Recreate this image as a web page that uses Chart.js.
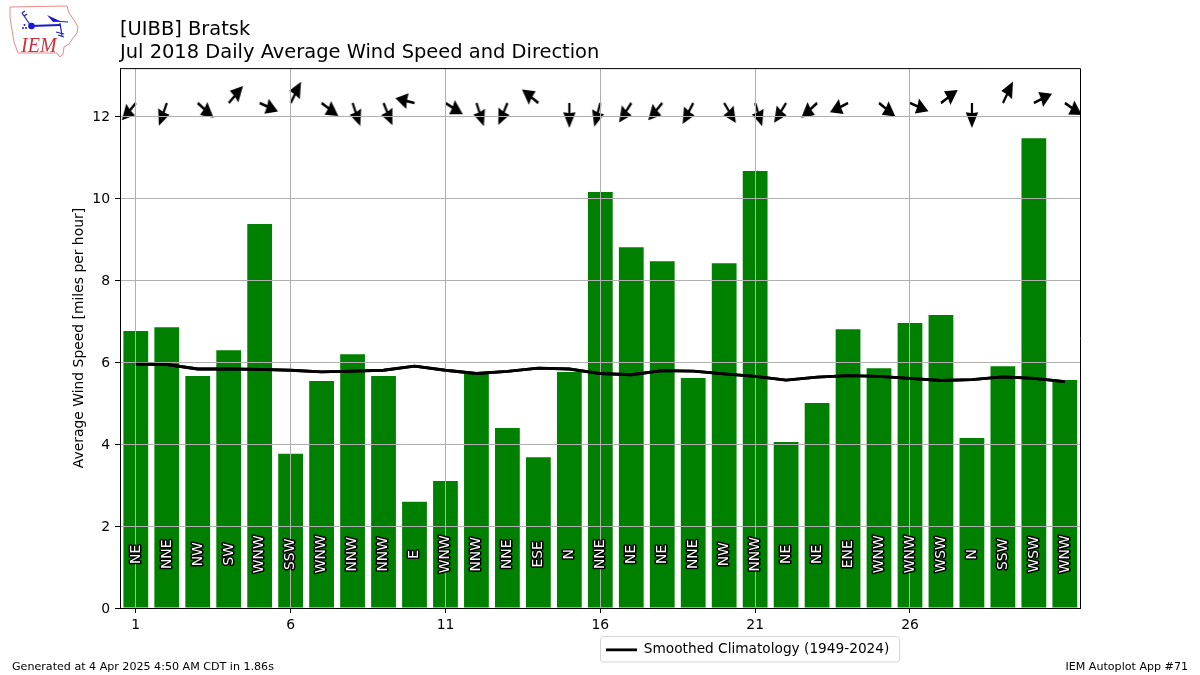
<!DOCTYPE html>
<html>
<head>
<meta charset="utf-8">
<title>[UIBB] Bratsk wind</title>
<script src="https://cdn.jsdelivr.net/npm/chart.js@4"></script>
<style>html,body{margin:0;padding:0;background:#fff}canvas{display:block}</style>
</head>
<body>
<canvas id="c" width="1200" height="675"></canvas>
<script>
const days = [1,2,3,4,5,6,7,8,9,10,11,12,13,14,15,16,17,18,19,20,21,22,23,24,25,26,27,28,29,30,31];
const avgSpeed = [6.76,6.85,5.66,6.29,9.37,3.76,5.54,6.19,5.66,2.59,3.10,5.73,4.39,3.68,5.76,10.15,8.80,8.46,5.61,8.41,10.66,4.05,5.00,6.80,5.85,6.95,7.15,4.15,5.90,11.46,5.56];
const climatology = [5.95,5.94,5.83,5.83,5.82,5.80,5.76,5.78,5.80,5.90,5.80,5.72,5.77,5.85,5.83,5.72,5.69,5.79,5.78,5.71,5.65,5.56,5.63,5.67,5.65,5.60,5.55,5.57,5.64,5.60,5.52];
const dirLabels = ["NE","NNE","NW","SW","WNW","SSW","WNW","NNW","NNW","E","WNW","NNW","NNE","ESE","N","NNE","NE","NE","NNE","NW","NNW","NE","NE","ENE","WNW","WNW","WSW","N","SSW","WSW","WNW"];
const windDirDeg = [46,24,306,227,290,212,301,337,333,101,297,338,28,123,0,18,39,46,33,323,339,38,54,68,303,289,239,0,211,248,299];
const arrowBase = 12.32;
const labelLevel = 1.31;
const xTickValues = [1,6,11,16,21,26];
const yTickValues = [0,2,4,6,8,10,12];
const titleLines = ["[UIBB] Bratsk","Jul 2018 Daily Average Wind Speed and Direction"];
const yAxisTitle = "Average Wind Speed [miles per hour]";
const legendLabel = "Smoothed Climatology (1949-2024)";
const footerLeft = "Generated at 4 Apr 2025 4:50 AM CDT in 1.86s";
const footerRight = "IEM Autoplot App #71";

const FONT = '"DejaVu Sans", sans-serif';
Chart.defaults.font.family = FONT;
Chart.defaults.font.size = 13.9;
Chart.defaults.color = '#000';

function arrowCanvas(deg){
  const s = 64, c = document.createElement('canvas');
  c.width = s; c.height = s;
  const g = c.getContext('2d');
  const r = deg*Math.PI/180;
  const ux = -Math.sin(r), uy = Math.cos(r), nx = -uy, ny = ux;
  const L = 25, hl = 15.7, na = 15, hw = 8, sw = 1.4, squeeze = 0.78;
  const P = (a,b)=>[s/2+squeeze*(ux*a+nx*b), s/2+uy*a+ny*b];
  const pts = [P(0,-sw),P(L-na,-sw),P(L-hl,-hw),P(L,0),P(L-hl,hw),P(L-na,sw),P(0,sw)];
  g.fillStyle = '#000';
  g.beginPath();
  pts.forEach((p,i)=> i?g.lineTo(p[0],p[1]):g.moveTo(p[0],p[1]));
  g.closePath(); g.fill();
  return c;
}
const arrowImgs = windDirDeg.map(arrowCanvas);

const decor = {
  id:'decor',
  afterLayout(chart){
    const l = chart.legend;
    l.left = 601; l.right = 899; l.top = 638; l.bottom = 662;
  },
  beforeDraw(chart){
    const g = chart.ctx;
    g.save();
    g.strokeStyle = '#d5d5d5'; g.lineWidth = 1;
    g.fillStyle = '#fff';
    g.beginPath();
    g.roundRect(600.5,636.5,299,25.5,3);
    g.fill(); g.stroke();
    drawLogo(g);
    g.fillStyle = '#000';
    g.font = '11.1px '+FONT;
    g.textBaseline = 'alphabetic';
    g.textAlign = 'left';
    g.fillText(footerLeft,12,670);
    g.textAlign = 'right';
    g.fillText(footerRight,1188,670);
    g.restore();
  },
  afterDraw(chart){
    const g = chart.ctx, a = chart.chartArea;
    chart.getDatasetMeta(2).controller.draw();
    const xs = chart.scales.x, ys = chart.scales.y;
    g.save();
    g.font = '13.9px '+FONT;
    g.textAlign = 'center'; g.textBaseline = 'middle';
    g.lineJoin = 'round';
    days.forEach((d,i)=>{
      g.save();
      g.translate(xs.getPixelForValue(d)+0.2, ys.getPixelForValue(labelLevel));
      g.rotate(-Math.PI/2);
      g.strokeStyle = '#000'; g.lineWidth = 3;
      g.strokeText(dirLabels[i],0,0);
      g.fillStyle = '#fff';
      g.fillText(dirLabels[i],0,0);
      g.restore();
    });
    g.strokeStyle = '#000'; g.lineWidth = 1;
    g.strokeRect(a.left+0.5,a.top+0.5,a.right-a.left,a.bottom-a.top);
    g.restore();
  }
};

function drawLogo(g){
  g.save();
  const o = [[10,7],[67,6],[69,13],[74,20],[78,27],[77,33],[73,38],[69,44],[64,47],[63,54],[60,57],[57,53],[18,53],[14,42],[12,30],[10,17]];
  g.strokeStyle = '#e58a8a'; g.lineWidth = 1;
  g.beginPath(); o.forEach((p,i)=> i?g.lineTo(p[0],p[1]):g.moveTo(p[0],p[1])); g.closePath(); g.stroke();
  g.strokeStyle = '#1a1ad0'; g.fillStyle = '#1a1ad0'; g.lineWidth = 1.8;
  const seg = (a,b,c,d)=>{g.beginPath();g.moveTo(a,b);g.lineTo(c,d);g.stroke();};
  seg(31,26,60,25); g.lineWidth = 1.2; seg(31,26,22,13); seg(22,13,25,11); seg(24,16,27,14);
  seg(53,21,68,22); seg(60,23,62,36); seg(56,32,64,34); seg(58,35,64,37);
  g.beginPath(); g.arc(31.5,26,3.3,0,7); g.fill();
  g.beginPath(); g.moveTo(47,15); g.lineTo(60,21); g.lineTo(53,22); g.closePath(); g.fill();
  [[23,28],[26,28],[24.5,25]].forEach(p=>{g.beginPath();g.arc(p[0],p[1],1,0,7);g.fill();});
  g.fillStyle = '#d0303c';
  g.font = 'italic 20px "Liberation Serif", serif';
  g.textAlign = 'left'; g.textBaseline = 'alphabetic';
  g.fillText('IEM',21,52);
  g.restore();
}

new Chart(document.getElementById('c'),{
  type:'bar',
  plugins:[decor],
  data:{
    datasets:[
      {type:'bar',label:'Average Wind Speed',data:days.map((d,i)=>({x:d,y:avgSpeed[i]})),
       backgroundColor:'#008000',borderWidth:0,barPercentage:0.8,categoryPercentage:1,order:3},
      {type:'scatter',label:'Wind Direction',data:days.map(d=>({x:d,y:arrowBase})),clip:0,showLine:false,
       pointRadius:1,pointStyle:(ctx)=>arrowImgs[ctx.dataIndex],order:2},
      {type:'line',label:legendLabel,data:days.map((d,i)=>({x:d,y:climatology[i]})),
       borderColor:'#000',backgroundColor:'#000',borderWidth:2.8,pointRadius:0,tension:0,order:1}
    ]
  },
  options:{
    responsive:false,animation:false,
    layout:{padding:{left:0,right:120,top:19,bottom:0}},
    scales:{
      x:{type:'linear',min:0.49,max:31.49,offset:false,
        afterBuildTicks(s){s.ticks=xTickValues.map(v=>({value:v}));},
        afterFit(s){s.height=67;},
        grid:{offset:false,color:'#b0b0b0',lineWidth:1,z:1,tickColor:'#000',tickLength:5},
        border:{color:'#000',z:2},
        ticks:{autoSkip:false,maxRotation:0,padding:4,font:{size:13.9},color:'#000',callback:v=>String(v)}},
      y:{type:'linear',min:0,max:13.17,
        afterBuildTicks(s){s.ticks=yTickValues.map(v=>({value:v}));},
        afterFit(s){s.width=120;},
        grid:{color:'#b0b0b0',lineWidth:1,z:1,tickColor:'#000',tickLength:5},
        border:{color:'#000',z:2},
        ticks:{padding:5,labelOffset:1,font:{size:13.9},color:'#000',callback:v=>String(v)},
        title:{display:true,text:yAxisTitle,font:{size:13.9},color:'#000',padding:{top:71,bottom:0}}}
    },
    plugins:{
      tooltip:{enabled:false},
      title:{display:true,text:titleLines,align:'start',fullSize:false,color:'#000',
        font:{size:19.44,weight:'normal',lineHeight:1.15},padding:{top:0,bottom:4.4}},
      legend:{display:true,position:'chartArea',align:'start',
        labels:{filter:i=>i.datasetIndex===2,usePointStyle:true,pointStyle:'line',pointStyleWidth:31,
          padding:5,color:'#000',font:{size:13.7}}}
    }
  }
});
</script>
</body>
</html>
